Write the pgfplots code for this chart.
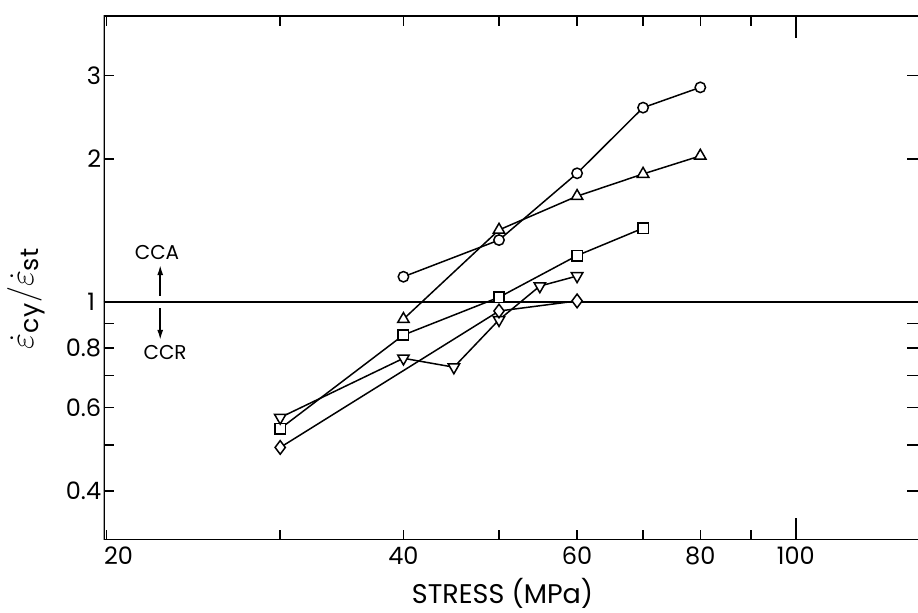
\documentclass[border=0pt]{standalone}
\usepackage{amsmath}
\usepackage{fontspec}
\setmainfont{Poppins}
\usepackage{pgfplots}
\pgfplotsset{compat=1.18}
\usetikzlibrary{arrows.meta}

\begin{document}
\begin{tikzpicture}
\useasboundingbox (-51.75pt,-36.5pt) rectangle (407.25pt,270pt);
\begin{axis}[
    at={(0,0)}, anchor=south west,
    scale only axis,
    width=407.25pt, height=262pt,
    xmode=log, ymode=log,
    xmin=19.86, xmax=133,
    ymin=0.3154, ymax=4.0,
    axis line style={draw=none},
    xminorticks=false, yminorticks=false,
    xtick={30,40,50,60,70,80,90,100},
    xticklabels={,40,,60,,80,,100},
    extra x ticks={20}, extra x tick labels={20},
    extra x tick style={major tick length=0pt, xticklabel style={xshift=6pt}},
    ytick={0.4,0.5,0.6,0.7,0.8,0.9,2,3},
    yticklabels={0.4,,0.6,,0.8,,2,3},
    extra y ticks={1}, extra y tick labels={1},
    extra y tick style={major tick length=0pt, yticklabel style={xshift=-3pt}},
    tick style={black, line width=0.8pt},
    xtick style={/pgfplots/major tick length=5pt},
    ytick style={/pgfplots/major tick length=5.5pt},
    tick label style={font=\fontsize{12}{14}\selectfont},
    yticklabel style={inner xsep=1pt},
    xlabel={STRESS (MPa)},
    ylabel={$\dot{\varepsilon}_{\text{cy}}/\dot{\varepsilon}_{\text{st}}$},
    xlabel style={at={(axis description cs:0.49,-0.102)}, anchor=center,
        font=\fontsize{13.5}{16}\selectfont},
    ylabel style={at={(axis description cs:-0.0952,0.461)}, anchor=center,
        font=\fontsize{18}{20}\selectfont},
]
% reference line ecy/est = 1
\addplot[black, line width=0.7pt] coordinates {(19.86,1) (133,1)};

% circles
\addplot[black, line width=0.75pt, mark=*, mark size=2.6pt, mark options={fill=white}]
    coordinates {(40,1.13) (50,1.35) (60,1.866) (70,2.565) (80,2.83)};
% triangles
\addplot[black, line width=0.75pt, mark=triangle*, mark size=3.3pt, mark options={fill=white}]
    coordinates {(40,0.92) (50,1.418) (60,1.67) (70,1.86) (80,2.03)};
% squares
\addplot[black, line width=0.75pt, mark=square*, mark size=2.6pt, mark options={fill=white}]
    coordinates {(30,0.541) (40,0.852) (50,1.023) (60,1.252) (70,1.43)};
% inverted triangles
\addplot[black, line width=0.75pt, mark=triangle*, mark size=3.3pt, mark options={fill=white, rotate=180}]
    coordinates {(30,0.571) (40,0.761) (45,0.729) (50,0.917) (55,1.08) (60,1.134)};
% diamonds
\addplot[black, line width=0.75pt, mark=diamond*, mark size=3.4pt, mark options={fill=white}]
    coordinates {(30,0.494) (50,0.957) (60,1.005)};

% long ticks at 100
\draw[line width=0.8pt] (axis cs:100,0.3154) -- ++(0pt,11pt);
\draw[line width=0.8pt] (axis cs:100,4.0) -- ++(0pt,-11pt);

% spines (right one falls outside the figure)
\draw[line width=1pt] (rel axis cs:1,1) -- (rel axis cs:0,1) -- (rel axis cs:0,0) -- (rel axis cs:1,0);

% CCA / CCR
\draw[line width=0.8pt, -{Latex[length=5pt,width=3pt]}] (axis cs:22.67,1.03) -- (axis cs:22.67,1.196);
\draw[line width=0.8pt, -{Latex[length=5pt,width=3pt]}] (axis cs:22.67,0.97) -- (axis cs:22.67,0.832);
\node[font=\fontsize{10}{12}\selectfont] at (axis cs:22.5,1.268) {CCA};
\node[font=\fontsize{10}{12}\selectfont] at (axis cs:22.93,0.781) {CCR};
\end{axis}
\end{tikzpicture}
\end{document}
